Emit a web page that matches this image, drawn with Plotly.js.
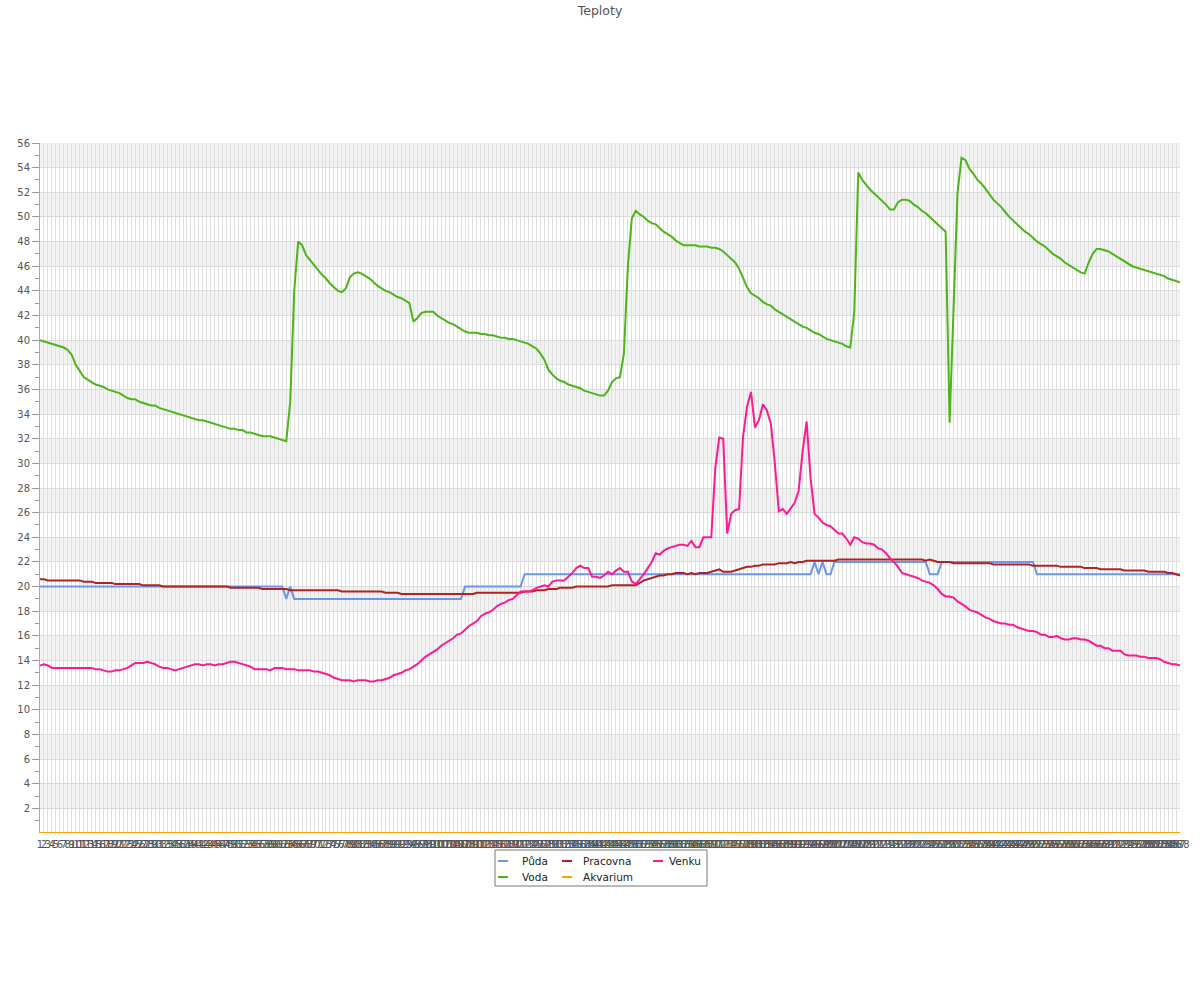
<!DOCTYPE html>
<html><head><meta charset="utf-8">
<script src="https://cdn.plot.ly/plotly-3.0.1.min.js"></script>
<style>html,body{margin:0;padding:0;background:#fff}#chart{width:1200px;height:1000px}</style>
</head><body><div id="chart"></div>
<script>
// x categories: sample numbers 1..288
const labels = Array.from({length: 288}, (_, i) => String(i + 1));

const puda = [
20,20,20,20,20,20,20,20,20,20, 20,20,20,20,20,20,20,20,20,20,
20,20,20,20,20,20,20,20,20,20, 20,20,20,20,20,20,20,20,20,20,
20,20,20,20,20,20,20,20,20,20, 20,20,20,20,20,20,20,20,20,20,
20,20,19,20,19,19,19,19,19,19, 19,19,19,19,19,19,19,19,19,19,
19,19,19,19,19,19,19,19,19,19, 19,19,19,19,19,19,19,19,19,19,
19,19,19,19,19,19,19,20,20,20, 20,20,20,20,20,20,20,20,20,20,
20,20,21,21,21,21,21,21,21,21, 21,21,21,21,21,21,21,21,21,21,
21,21,21,21,21,21,21,21,21,21, 21,21,21,21,21,21,21,21,21,21,
21,21,21,21,21,21,21,21,21,21, 21,21,21,21,21,21,21,21,21,21,
21,21,21,21,21,21,21,21,21,21, 21,21,21,21,21,22,21,22,21,21,
22,22,22,22,22,22,22,22,22,22, 22,22,22,22,22,22,22,22,22,22,
22,22,22,22,21,21,21,22,22,22, 22,22,22,22,22,22,22,22,22,22,
22,22,22,22,22,22,22,22,22,22, 22,21,21,21,21,21,21,21,21,21,
21,21,21,21,21,21,21,21,21,21, 21,21,21,21,21,21,21,21,21,21,
21,21,21,21,21,21,21,21
];

const voda = [
40.0,39.9,39.8,39.7,39.6,39.5,39.4,39.2,38.8,38.0,
37.5,37.0,36.8,36.6,36.4,36.3,36.2,36.0,35.9,35.8,
35.7,35.5,35.3,35.2,35.2,35.0,34.9,34.8,34.7,34.7,
34.5,34.4,34.3,34.2,34.1,34.0,33.9,33.8,33.7,33.6,
33.5,33.5,33.4,33.3,33.2,33.1,33.0,32.9,32.8,32.8,
32.7,32.7,32.5,32.5,32.4,32.3,32.2,32.2,32.2,32.1,
32.0,31.9,31.8,35.0,44.0,48.0,47.7,46.9,46.5,46.1,
45.7,45.3,45.0,44.6,44.3,44.0,43.9,44.2,45.1,45.4,
45.5,45.4,45.2,45.0,44.7,44.4,44.2,44.0,43.9,43.7,
43.5,43.4,43.2,43.0,41.5,41.8,42.2,42.3,42.3,42.3,
42.0,41.8,41.6,41.4,41.3,41.1,40.9,40.7,40.6,40.6,
40.6,40.5,40.5,40.4,40.4,40.3,40.2,40.2,40.1,40.1,
40.0,39.9,39.8,39.7,39.5,39.3,38.9,38.4,37.6,37.2,
36.9,36.7,36.6,36.4,36.3,36.2,36.1,35.9,35.8,35.7,
35.6,35.5,35.5,35.9,36.6,36.9,37.0,38.9,46.0,49.9,
50.5,50.2,50.0,49.7,49.5,49.4,49.1,48.8,48.6,48.4,
48.1,47.9,47.7,47.7,47.7,47.7,47.6,47.6,47.6,47.5,
47.5,47.4,47.2,46.9,46.6,46.3,45.8,45.0,44.3,43.8,
43.6,43.4,43.1,42.9,42.8,42.5,42.3,42.1,41.9,41.7,
41.5,41.3,41.1,41.0,40.8,40.6,40.5,40.3,40.1,40.0,
39.9,39.8,39.7,39.5,39.4,42.3,53.6,53.0,52.6,52.2,
51.9,51.6,51.3,51.0,50.6,50.6,51.2,51.4,51.4,51.3,
51.0,50.8,50.5,50.3,50.0,49.7,49.4,49.1,48.8,33.3,
42.7,52.0,54.8,54.6,53.9,53.5,53.0,52.7,52.3,51.8,
51.4,51.1,50.8,50.4,50.0,49.7,49.4,49.1,48.8,48.6,
48.3,48.0,47.8,47.6,47.3,47.0,46.8,46.6,46.3,46.1,
45.9,45.7,45.5,45.4,46.3,47.0,47.4,47.4,47.3,47.2,
47.0,46.8,46.6,46.4,46.2,46.0,45.9,45.8,45.7,45.6,
45.5,45.4,45.3,45.2,45.0,44.9,44.8,44.7
];

const pracovna = [
20.6,20.6,20.5,20.5,20.5,20.5,20.5,20.5,20.5,20.5,
20.5,20.4,20.4,20.4,20.3,20.3,20.3,20.3,20.3,20.2,
20.2,20.2,20.2,20.2,20.2,20.2,20.1,20.1,20.1,20.1,
20.1,20.0,20.0,20.0,20.0,20.0,20.0,20.0,20.0,20.0,
20.0,20.0,20.0,20.0,20.0,20.0,20.0,20.0,19.9,19.9,
19.9,19.9,19.9,19.9,19.9,19.9,19.8,19.8,19.8,19.8,
19.8,19.8,19.8,19.7,19.7,19.7,19.7,19.7,19.7,19.7,
19.7,19.7,19.7,19.7,19.7,19.7,19.6,19.6,19.6,19.6,
19.6,19.6,19.6,19.6,19.6,19.6,19.6,19.5,19.5,19.5,
19.5,19.4,19.4,19.4,19.4,19.4,19.4,19.4,19.4,19.4,
19.4,19.4,19.4,19.4,19.4,19.4,19.4,19.4,19.4,19.4,
19.5,19.5,19.5,19.5,19.5,19.5,19.5,19.5,19.5,19.5,
19.5,19.5,19.6,19.6,19.6,19.7,19.7,19.7,19.8,19.8,
19.8,19.9,19.9,19.9,19.9,20.0,20.0,20.0,20.0,20.0,
20.0,20.0,20.0,20.0,20.1,20.1,20.1,20.1,20.1,20.1,
20.1,20.3,20.5,20.6,20.7,20.8,20.9,20.9,21.0,21.0,
21.1,21.1,21.1,21.0,21.1,21.0,21.1,21.1,21.1,21.2,
21.3,21.4,21.2,21.2,21.2,21.3,21.4,21.5,21.6,21.6,
21.7,21.7,21.8,21.8,21.8,21.8,21.9,21.9,21.9,22.0,
21.9,22.0,22.0,22.1,22.1,22.1,22.1,22.1,22.1,22.1,
22.1,22.2,22.2,22.2,22.2,22.2,22.2,22.2,22.2,22.2,
22.2,22.2,22.2,22.2,22.2,22.2,22.2,22.2,22.2,22.2,
22.2,22.2,22.2,22.1,22.2,22.1,22.0,22.0,22.0,22.0,
21.9,21.9,21.9,21.9,21.9,21.9,21.9,21.9,21.9,21.9,
21.8,21.8,21.8,21.8,21.8,21.8,21.8,21.8,21.8,21.8,
21.7,21.7,21.7,21.7,21.7,21.7,21.7,21.6,21.6,21.6,
21.6,21.6,21.6,21.5,21.5,21.5,21.5,21.4,21.4,21.4,
21.4,21.4,21.4,21.3,21.3,21.3,21.3,21.3,21.3,21.2,
21.2,21.2,21.2,21.2,21.1,21.1,21.0,20.9
];

const akvarium = [
0,0,0,0,0,0,0,0,0,0, 0,0,0,0,0,0,0,0,0,0, 0,0,0,0,0,0,0,0,0,0,
0,0,0,0,0,0,0,0,0,0, 0,0,0,0,0,0,0,0,0,0, 0,0,0,0,0,0,0,0,0,0,
0,0,0,0,0,0,0,0,0,0, 0,0,0,0,0,0,0,0,0,0, 0,0,0,0,0,0,0,0,0,0,
0,0,0,0,0,0,0,0,0,0, 0,0,0,0,0,0,0,0,0,0, 0,0,0,0,0,0,0,0,0,0,
0,0,0,0,0,0,0,0,0,0, 0,0,0,0,0,0,0,0,0,0, 0,0,0,0,0,0,0,0,0,0,
0,0,0,0,0,0,0,0,0,0, 0,0,0,0,0,0,0,0,0,0, 0,0,0,0,0,0,0,0,0,0,
0,0,0,0,0,0,0,0,0,0, 0,0,0,0,0,0,0,0,0,0, 0,0,0,0,0,0,0,0,0,0,
0,0,0,0,0,0,0,0,0,0, 0,0,0,0,0,0,0,0,0,0, 0,0,0,0,0,0,0,0,0,0,
0,0,0,0,0,0,0,0,0,0, 0,0,0,0,0,0,0,0,0,0, 0,0,0,0,0,0,0,0,0,0,
0,0,0,0,0,0,0,0,0,0, 0,0,0,0,0,0,0,0
];

const venku = [
13.6,13.7,13.6,13.4,13.4,13.4,13.4,13.4,13.4,13.4,
13.4,13.4,13.4,13.4,13.3,13.3,13.2,13.1,13.1,13.2,
13.2,13.3,13.4,13.6,13.8,13.8,13.8,13.9,13.8,13.7,
13.5,13.4,13.4,13.3,13.2,13.3,13.4,13.5,13.6,13.7,
13.7,13.6,13.7,13.7,13.6,13.7,13.7,13.8,13.9,13.9,
13.8,13.7,13.6,13.5,13.3,13.3,13.3,13.3,13.2,13.4,
13.4,13.4,13.3,13.3,13.3,13.2,13.2,13.2,13.2,13.1,
13.1,13.0,12.9,12.8,12.6,12.5,12.4,12.4,12.4,12.3,
12.4,12.4,12.4,12.3,12.3,12.4,12.4,12.5,12.6,12.8,
12.9,13.0,13.2,13.3,13.5,13.7,14.0,14.3,14.5,14.7,
14.9,15.2,15.4,15.6,15.8,16.1,16.2,16.5,16.8,17.0,
17.2,17.6,17.8,17.9,18.1,18.4,18.6,18.7,18.9,19.0,
19.3,19.6,19.6,19.6,19.7,19.9,20.0,20.1,20.0,20.4,
20.5,20.5,20.5,20.8,21.1,21.5,21.7,21.5,21.5,20.8,
20.8,20.7,20.9,21.2,21.0,21.3,21.5,21.2,21.2,20.4,
20.2,20.6,21.0,21.5,22.0,22.7,22.6,22.9,23.1,23.2,
23.3,23.4,23.4,23.3,23.7,23.2,23.2,24.0,24.0,24.0,
29.6,32.1,32.0,24.3,25.9,26.2,26.3,32.2,34.6,35.8,
32.9,33.5,34.8,34.3,33.2,30.0,26.1,26.3,25.9,26.4,
26.8,27.8,31.0,33.4,28.8,25.9,25.6,25.2,25.0,24.9,
24.6,24.3,24.3,23.9,23.4,24.0,23.9,23.6,23.5,23.5,
23.4,23.1,23.0,22.7,22.3,22.0,21.6,21.1,21.0,20.9,
20.8,20.7,20.5,20.4,20.3,20.1,19.8,19.4,19.2,19.2,
19.1,18.8,18.6,18.4,18.1,18.0,17.9,17.7,17.5,17.4,
17.2,17.1,17.0,17.0,16.9,16.9,16.7,16.6,16.5,16.4,
16.4,16.3,16.1,16.1,15.9,15.9,16.0,15.8,15.7,15.7,
15.8,15.8,15.7,15.7,15.6,15.4,15.2,15.2,15.0,15.0,
14.8,14.8,14.8,14.5,14.4,14.4,14.4,14.3,14.3,14.2,
14.2,14.2,14.1,13.9,13.8,13.7,13.7,13.6
];

const yTickVals = [2,4,6,8,10,12,14,16,18,20,22,24,26,28,30,32,34,36,38,40,42,44,46,48,50,52,54,56];
const yMinorVals = [1,3,5,7,9,11,13,15,17,19,21,23,25,27,29,31,33,35,37,39,41,43,45,47,49,51,53,55];

const seriesNames  = ['Půda', 'Voda', 'Pracovna', 'Akvarium', 'Venku'];
const seriesValues = [puda, voda, pracovna, akvarium, venku];
const seriesColors = ['#6a97ec', '#4cb519', '#b22222', '#ffa200', '#ff1a94'];

// ---- geometry ----
const W = 1200, H = 1000, ML = 40, MR = 20, MT = 143, MB = 167;
const PW = W - ML - MR, PH = H - MT - MB;
const px = x => (x - ML) / PW;
const py = y => (H - MB - y) / PH;

const traces = seriesNames.map((name, k) => ({
  type: 'scatter', mode: 'lines', name: name,
  x: labels, y: seriesValues[k],
  line: {color: seriesColors[k], width: 2},
  hoverinfo: 'skip', showlegend: false
}));

const shapes = [];
for (let v = 2; v < 56; v += 4) {
  shapes.push({type: 'rect', layer: 'below', xref: 'paper', yref: 'y',
    x0: 0, x1: 1, y0: v, y1: v + 2, fillcolor: '#f2f2f2', line: {width: 0}});
}

// manual legend (column-major, like the original)
const legLeft = 495, legRight = 707, legTop = 850, legBottom = 886;
shapes.push({type: 'rect', layer: 'above', xref: 'paper', yref: 'paper',
  x0: px(legLeft), x1: px(legRight), y0: py(legBottom), y1: py(legTop),
  fillcolor: '#ffffff', line: {color: '#777', width: 1}});
const colDash = [498, 562, 653], colText = [520, 581, 667], rowY = [861, 877];
const annotations = [];
seriesNames.forEach((name, k) => {
  const c = Math.floor(k / 2), r = k % 2;
  shapes.push({type: 'line', layer: 'above', xref: 'paper', yref: 'paper',
    x0: px(colDash[c]), x1: px(colDash[c] + 10), y0: py(rowY[r]), y1: py(rowY[r]),
    line: {color: seriesColors[k], width: 2}});
  annotations.push({xref: 'paper', yref: 'paper', x: px(colText[c]), y: py(rowY[r]),
    xanchor: 'left', yanchor: 'middle', showarrow: false, text: name,
    font: {size: 10.5, color: '#222'}});
});

const layout = {
  width: W, height: H,
  margin: {l: ML, r: MR, t: MT, b: MB, pad: 0},
  paper_bgcolor: '#ffffff', plot_bgcolor: '#ffffff',
  font: {family: 'DejaVu Sans, sans-serif', size: 10, color: '#555'},
  title: {text: 'Teploty', x: 0.5, xref: 'container', xanchor: 'center',
          y: 1 - 11 / H, yref: 'container', yanchor: 'middle',
          font: {size: 12.5, color: '#555'}},
  showlegend: false,
  xaxis: {type: 'category', range: [0, 287], tickmode: 'linear', tick0: 0, dtick: 1,
          tickangle: 0, showgrid: true, gridcolor: '#e0e0e0', gridwidth: 1,
          zeroline: false, showline: false, ticks: '', fixedrange: true,
          ticklabelstandoff: 4,
          tickfont: {size: 10, color: '#555'}},
  yaxis: {range: [0, 56], tickmode: 'array', tickvals: yTickVals,
          ticks: 'outside', ticklen: 7, tickcolor: '#999', tickwidth: 1,
          showline: true, linecolor: '#aaa', linewidth: 1,
          showgrid: true, gridcolor: '#dcdcdc', gridwidth: 1, zeroline: false,
          tickfont: {size: 10, color: '#555'}, fixedrange: true,
          minor: {tickmode: 'array', tickvals: yMinorVals, ticks: 'outside',
                  ticklen: 4, tickcolor: '#999', showgrid: false}},
  shapes: shapes,
  annotations: annotations
};

Plotly.newPlot('chart', traces, layout, {displayModeBar: false, staticPlot: true});
</script>
</body></html>
